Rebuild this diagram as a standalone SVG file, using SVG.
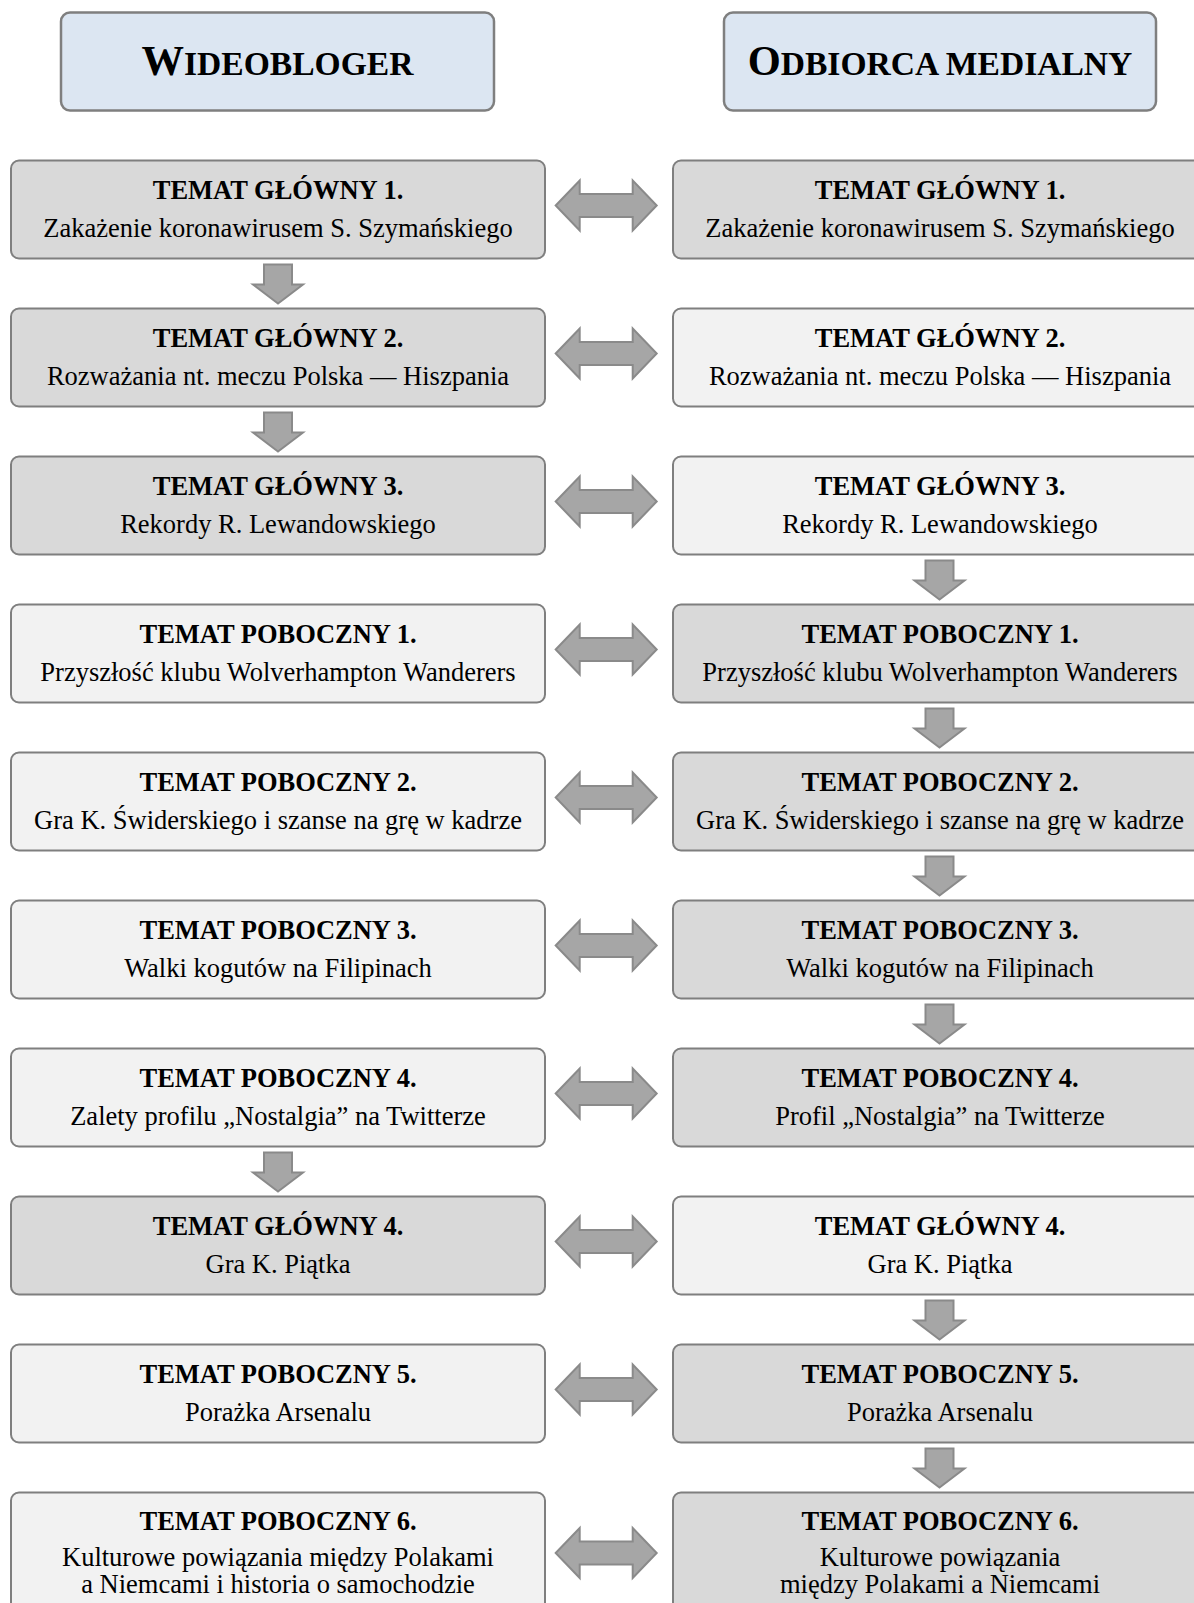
<svg xmlns="http://www.w3.org/2000/svg" xmlns:xlink="http://www.w3.org/1999/xlink" width="1194" height="1603" viewBox="0 0 1194 1603">
  <style>
    .hdr { fill: #dce6f2; stroke: #7f7f7f; stroke-width: 2.5; }
    .dk { fill: #d9d9d9; stroke: #7f7f7f; stroke-width: 2; }
    .lt { fill: #f2f2f2; stroke: #7f7f7f; stroke-width: 2; }
    .arr { fill: #a6a6a6; stroke: #8a8a8a; stroke-width: 2; stroke-linejoin: miter; }
    text { font-family: "Liberation Serif", "Times New Roman", serif; fill: #000; text-anchor: middle; }
    .h { font-weight: bold; font-size: 33.6px; }
    .h .big { font-size: 42.5px; }
    .t { font-weight: bold; font-size: 26.5px; }
    .s { font-size: 26.5px; }
  </style>
  <defs>
    <!-- two-way arrow between the columns, centred on (0,0) -->
    <polygon id="dbl" class="arr" points="-50.5,0 -26.5,-25 -26.5,-11.5 26.5,-11.5 26.5,-25 50.5,0 26.5,25 26.5,11.5 -26.5,11.5 -26.5,25"/>
    <!-- downward block arrow, top of the shaft at (0,0) -->
    <polygon id="down" class="arr" points="-14,0 14,0 14,20 25,20 0,39 -25,20 -14,20"/>
  </defs>

  <!-- column headers -->
  <g id="header-wideobloger">
    <rect class="hdr" x="61" y="12.5" width="433" height="98" rx="9"/>
    <text class="h" x="277.5" y="75"><tspan class="big">W</tspan>IDEOBLOGER</text>
  </g>
  <g id="header-odbiorca">
    <rect class="hdr" x="724" y="12.5" width="432" height="98" rx="9"/>
    <text class="h" x="940" y="75"><tspan class="big">O</tspan>DBIORCA MEDIALNY</text>
  </g>

  <!-- left column: wideobloger -->
  <g id="L1">
    <rect class="dk" x="11" y="160.5" width="534" height="98" rx="8"/>
    <text class="t" x="278" y="199">TEMAT GŁÓWNY 1.</text>
    <text class="s" x="278" y="237">Zakażenie koronawirusem S. Szymańskiego</text>
  </g>
  <g id="L2">
    <rect class="dk" x="11" y="308.5" width="534" height="98" rx="8"/>
    <text class="t" x="278" y="347">TEMAT GŁÓWNY 2.</text>
    <text class="s" x="278" y="385">Rozważania nt. meczu Polska — Hiszpania</text>
  </g>
  <g id="L3">
    <rect class="dk" x="11" y="456.5" width="534" height="98" rx="8"/>
    <text class="t" x="278" y="495">TEMAT GŁÓWNY 3.</text>
    <text class="s" x="278" y="533">Rekordy R. Lewandowskiego</text>
  </g>
  <g id="L4">
    <rect class="lt" x="11" y="604.5" width="534" height="98" rx="8"/>
    <text class="t" x="278" y="643">TEMAT POBOCZNY 1.</text>
    <text class="s" x="278" y="681">Przyszłość klubu Wolverhampton Wanderers</text>
  </g>
  <g id="L5">
    <rect class="lt" x="11" y="752.5" width="534" height="98" rx="8"/>
    <text class="t" x="278" y="791">TEMAT POBOCZNY 2.</text>
    <text class="s" x="278" y="829">Gra K. Świderskiego i szanse na grę w kadrze</text>
  </g>
  <g id="L6">
    <rect class="lt" x="11" y="900.5" width="534" height="98" rx="8"/>
    <text class="t" x="278" y="939">TEMAT POBOCZNY 3.</text>
    <text class="s" x="278" y="977">Walki kogutów na Filipinach</text>
  </g>
  <g id="L7">
    <rect class="lt" x="11" y="1048.5" width="534" height="98" rx="8"/>
    <text class="t" x="278" y="1087">TEMAT POBOCZNY 4.</text>
    <text class="s" x="278" y="1125">Zalety profilu „Nostalgia” na Twitterze</text>
  </g>
  <g id="L8">
    <rect class="dk" x="11" y="1196.5" width="534" height="98" rx="8"/>
    <text class="t" x="278" y="1235">TEMAT GŁÓWNY 4.</text>
    <text class="s" x="278" y="1273">Gra K. Piątka</text>
  </g>
  <g id="L9">
    <rect class="lt" x="11" y="1344.5" width="534" height="98" rx="8"/>
    <text class="t" x="278" y="1383">TEMAT POBOCZNY 5.</text>
    <text class="s" x="278" y="1421">Porażka Arsenalu</text>
  </g>
  <g id="L10">
    <rect class="lt" x="11" y="1492.5" width="534" height="130" rx="8"/>
    <text class="t" x="278" y="1530">TEMAT POBOCZNY 6.</text>
    <text class="s" x="278" y="1565.5">Kulturowe powiązania między Polakami</text>
    <text class="s" x="278" y="1593">a Niemcami i historia o samochodzie</text>
  </g>

  <!-- right column: odbiorca medialny -->
  <g id="R1">
    <rect class="dk" x="673" y="160.5" width="534" height="98" rx="8"/>
    <text class="t" x="940" y="199">TEMAT GŁÓWNY 1.</text>
    <text class="s" x="940" y="237">Zakażenie koronawirusem S. Szymańskiego</text>
  </g>
  <g id="R2">
    <rect class="lt" x="673" y="308.5" width="534" height="98" rx="8"/>
    <text class="t" x="940" y="347">TEMAT GŁÓWNY 2.</text>
    <text class="s" x="940" y="385">Rozważania nt. meczu Polska — Hiszpania</text>
  </g>
  <g id="R3">
    <rect class="lt" x="673" y="456.5" width="534" height="98" rx="8"/>
    <text class="t" x="940" y="495">TEMAT GŁÓWNY 3.</text>
    <text class="s" x="940" y="533">Rekordy R. Lewandowskiego</text>
  </g>
  <g id="R4">
    <rect class="dk" x="673" y="604.5" width="534" height="98" rx="8"/>
    <text class="t" x="940" y="643">TEMAT POBOCZNY 1.</text>
    <text class="s" x="940" y="681">Przyszłość klubu Wolverhampton Wanderers</text>
  </g>
  <g id="R5">
    <rect class="dk" x="673" y="752.5" width="534" height="98" rx="8"/>
    <text class="t" x="940" y="791">TEMAT POBOCZNY 2.</text>
    <text class="s" x="940" y="829">Gra K. Świderskiego i szanse na grę w kadrze</text>
  </g>
  <g id="R6">
    <rect class="dk" x="673" y="900.5" width="534" height="98" rx="8"/>
    <text class="t" x="940" y="939">TEMAT POBOCZNY 3.</text>
    <text class="s" x="940" y="977">Walki kogutów na Filipinach</text>
  </g>
  <g id="R7">
    <rect class="dk" x="673" y="1048.5" width="534" height="98" rx="8"/>
    <text class="t" x="940" y="1087">TEMAT POBOCZNY 4.</text>
    <text class="s" x="940" y="1125">Profil „Nostalgia” na Twitterze</text>
  </g>
  <g id="R8">
    <rect class="lt" x="673" y="1196.5" width="534" height="98" rx="8"/>
    <text class="t" x="940" y="1235">TEMAT GŁÓWNY 4.</text>
    <text class="s" x="940" y="1273">Gra K. Piątka</text>
  </g>
  <g id="R9">
    <rect class="dk" x="673" y="1344.5" width="534" height="98" rx="8"/>
    <text class="t" x="940" y="1383">TEMAT POBOCZNY 5.</text>
    <text class="s" x="940" y="1421">Porażka Arsenalu</text>
  </g>
  <g id="R10">
    <rect class="dk" x="673" y="1492.5" width="534" height="130" rx="8"/>
    <text class="t" x="940" y="1530">TEMAT POBOCZNY 6.</text>
    <text class="s" x="940" y="1565.5">Kulturowe powiązania</text>
    <text class="s" x="940" y="1593">między Polakami a Niemcami</text>
  </g>

  <!-- connectors -->
  <g id="connectors">
    <!-- two-way links between matching topics -->
    <use xlink:href="#dbl" x="606.2" y="205.5"/>
    <use xlink:href="#dbl" x="606.2" y="353.5"/>
    <use xlink:href="#dbl" x="606.2" y="501.5"/>
    <use xlink:href="#dbl" x="606.2" y="649.5"/>
    <use xlink:href="#dbl" x="606.2" y="797.5"/>
    <use xlink:href="#dbl" x="606.2" y="945.5"/>
    <use xlink:href="#dbl" x="606.2" y="1093.5"/>
    <use xlink:href="#dbl" x="606.2" y="1241.5"/>
    <use xlink:href="#dbl" x="606.2" y="1389.5"/>
    <use xlink:href="#dbl" x="606.2" y="1553"/>
    <!-- left column flow -->
    <use xlink:href="#down" x="278" y="264.5"/>
    <use xlink:href="#down" x="278" y="412.5"/>
    <use xlink:href="#down" x="278" y="1152.5"/>
    <!-- right column flow -->
    <use xlink:href="#down" x="939.5" y="560.5"/>
    <use xlink:href="#down" x="939.5" y="708.5"/>
    <use xlink:href="#down" x="939.5" y="856.5"/>
    <use xlink:href="#down" x="939.5" y="1004.5"/>
    <use xlink:href="#down" x="939.5" y="1300.5"/>
    <use xlink:href="#down" x="939.5" y="1448.5"/>
  </g>
</svg>
